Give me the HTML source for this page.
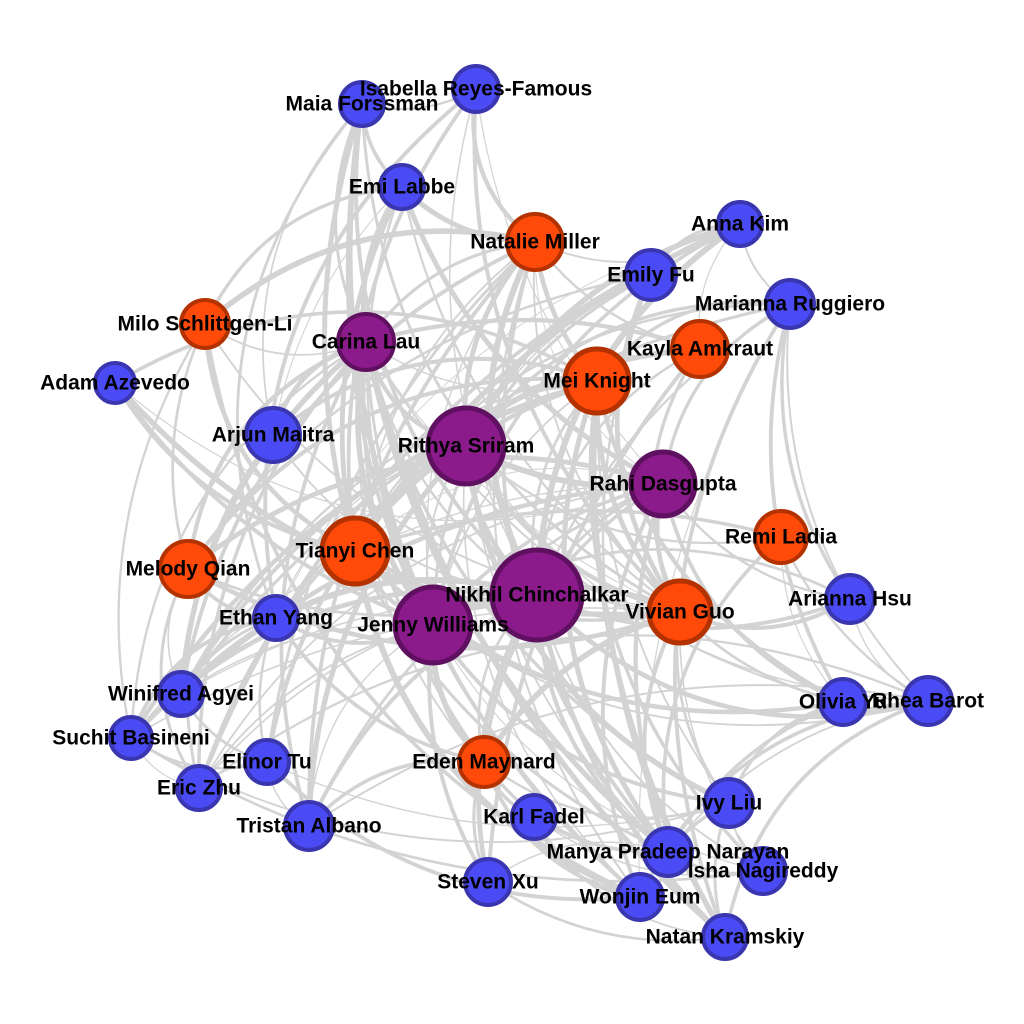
<!DOCTYPE html>
<html><head><meta charset="utf-8"><style>
html,body{margin:0;padding:0;background:#fff;width:1024px;height:1024px;overflow:hidden}
svg text{font-family:"Liberation Sans","Noto Sans CJK JP",sans-serif;font-weight:bold;font-size:21px;fill:#000;text-anchor:middle;dominant-baseline:central}
</style></head><body>
<svg id="s" width="1024" height="1024" xmlns="http://www.w3.org/2000/svg">
<g id="e" fill="none" stroke="#d3d3d3"></g><g id="n"></g><g id="t"></g>
</svg>
<script>
var B=['#4b4bf5','#3a36b0'],O=['#ff4a0a','#b33200'],P=['#8b1a8b','#5f1060'];
var N=[
["Maia Forssman",362,104,22,B],["Isabella Reyes-Famous",476,89,23,B],["Emi Labbe",402,187,22,B],
["Natalie Miller",535,242,28,O],["Anna Kim",740,224,22,B],["Emily Fu",651,275,25,B],
["Marianna Ruggiero",790,304,24,B],["Kayla Amkraut",700,349,28,O],["Milo Schlittgen-Li",205,324,24,O],
["Carina Lau",366,342,28,P],["Mei Knight",597,381,32,O],["Adam Azevedo",115,383,20,B],
["Arjun Maitra",273,435,27,B],["Rithya Sriram",466,446,38,P],["Rahi Dasgupta",663,484,32,P],
["Remi Ladia",781,537,26,O],["Melody Qian",188,569,28,O],["Tianyi Chen",355,551,33,O],
["Nikhil Chinchalkar",537,595,45,P],["Vivian Guo",680,612,31,O],["Arianna Hsu",850,599,24,B],
["Ethan Yang",276,618,22,B],["Jenny Williams",433,625,38,P],["Olivia Yu",843,702,23,B],
["Rhea Barot",928,701,24,B],["Winifred Agyei",181,694,22,B],["Suchit Basineni",131,738,21,B],
["Elinor Tu",267,762,22,B],["Eden Maynard",484,762,25,O],["Eric Zhu",199,788,22,B],
["Tristan Albano",309,826,24,B],["Karl Fadel",534,817,22,B],["Ivy Liu",729,803,24,B],
["Manya Pradeep Narayan",668,852,24,B],["Isha Nagireddy",763,871,23,B],["Steven Xu",488,882,23,B],
["Wonjin Eum",640,897,23,B],["Natan Kramskiy",725,937,22,B]];
var seed=11;function r(){seed=(seed*16807)%2147483647;return seed/2147483647;}
var ns="http://www.w3.org/2000/svg",E=document.getElementById('e');
function edge(a,b,w){var A=N[a],C=N[b];var mx=(A[1]+C[1])/2,my=(A[2]+C[2])/2;var dx=C[1]-A[1],dy=C[2]-A[2];var k=0.15+r()*0.15;
var p=document.createElementNS(ns,'path');p.setAttribute('d','M'+A[1]+' '+A[2]+' Q'+(mx-dy*k)+' '+(my+dx*k)+' '+C[1]+' '+C[2]);p.setAttribute('stroke-width',w);E.appendChild(p);}
var hubs=[18,22,13,14,9,17,10,19,3];
for(var i=0;i<N.length;i++){for(var j=i+1;j<N.length;j++){
var h=(hubs.indexOf(i)>=0)+(hubs.indexOf(j)>=0);var d=Math.hypot(N[i][1]-N[j][1],N[i][2]-N[j][2]);
var pr=h==2?0.85:h==1?0.5:(d<250?0.4:0.1);
if(r()<pr){edge(i,j,(h?1+r()*5:1+r()*3).toFixed(1));}}}
var G=document.getElementById('n'),T=document.getElementById('t');
N.forEach(function(a){var c=document.createElementNS(ns,'circle');c.setAttribute('cx',a[1]);c.setAttribute('cy',a[2]);c.setAttribute('r',a[3]);c.setAttribute('fill',a[4][0]);c.setAttribute('stroke',a[4][1]);c.setAttribute('stroke-width',a[3]>30?5:4);G.appendChild(c);
var t=document.createElementNS(ns,'text');t.setAttribute('x',a[1]);t.setAttribute('y',a[2]);t.textContent=a[0];T.appendChild(t);});
</script>
</body></html>
